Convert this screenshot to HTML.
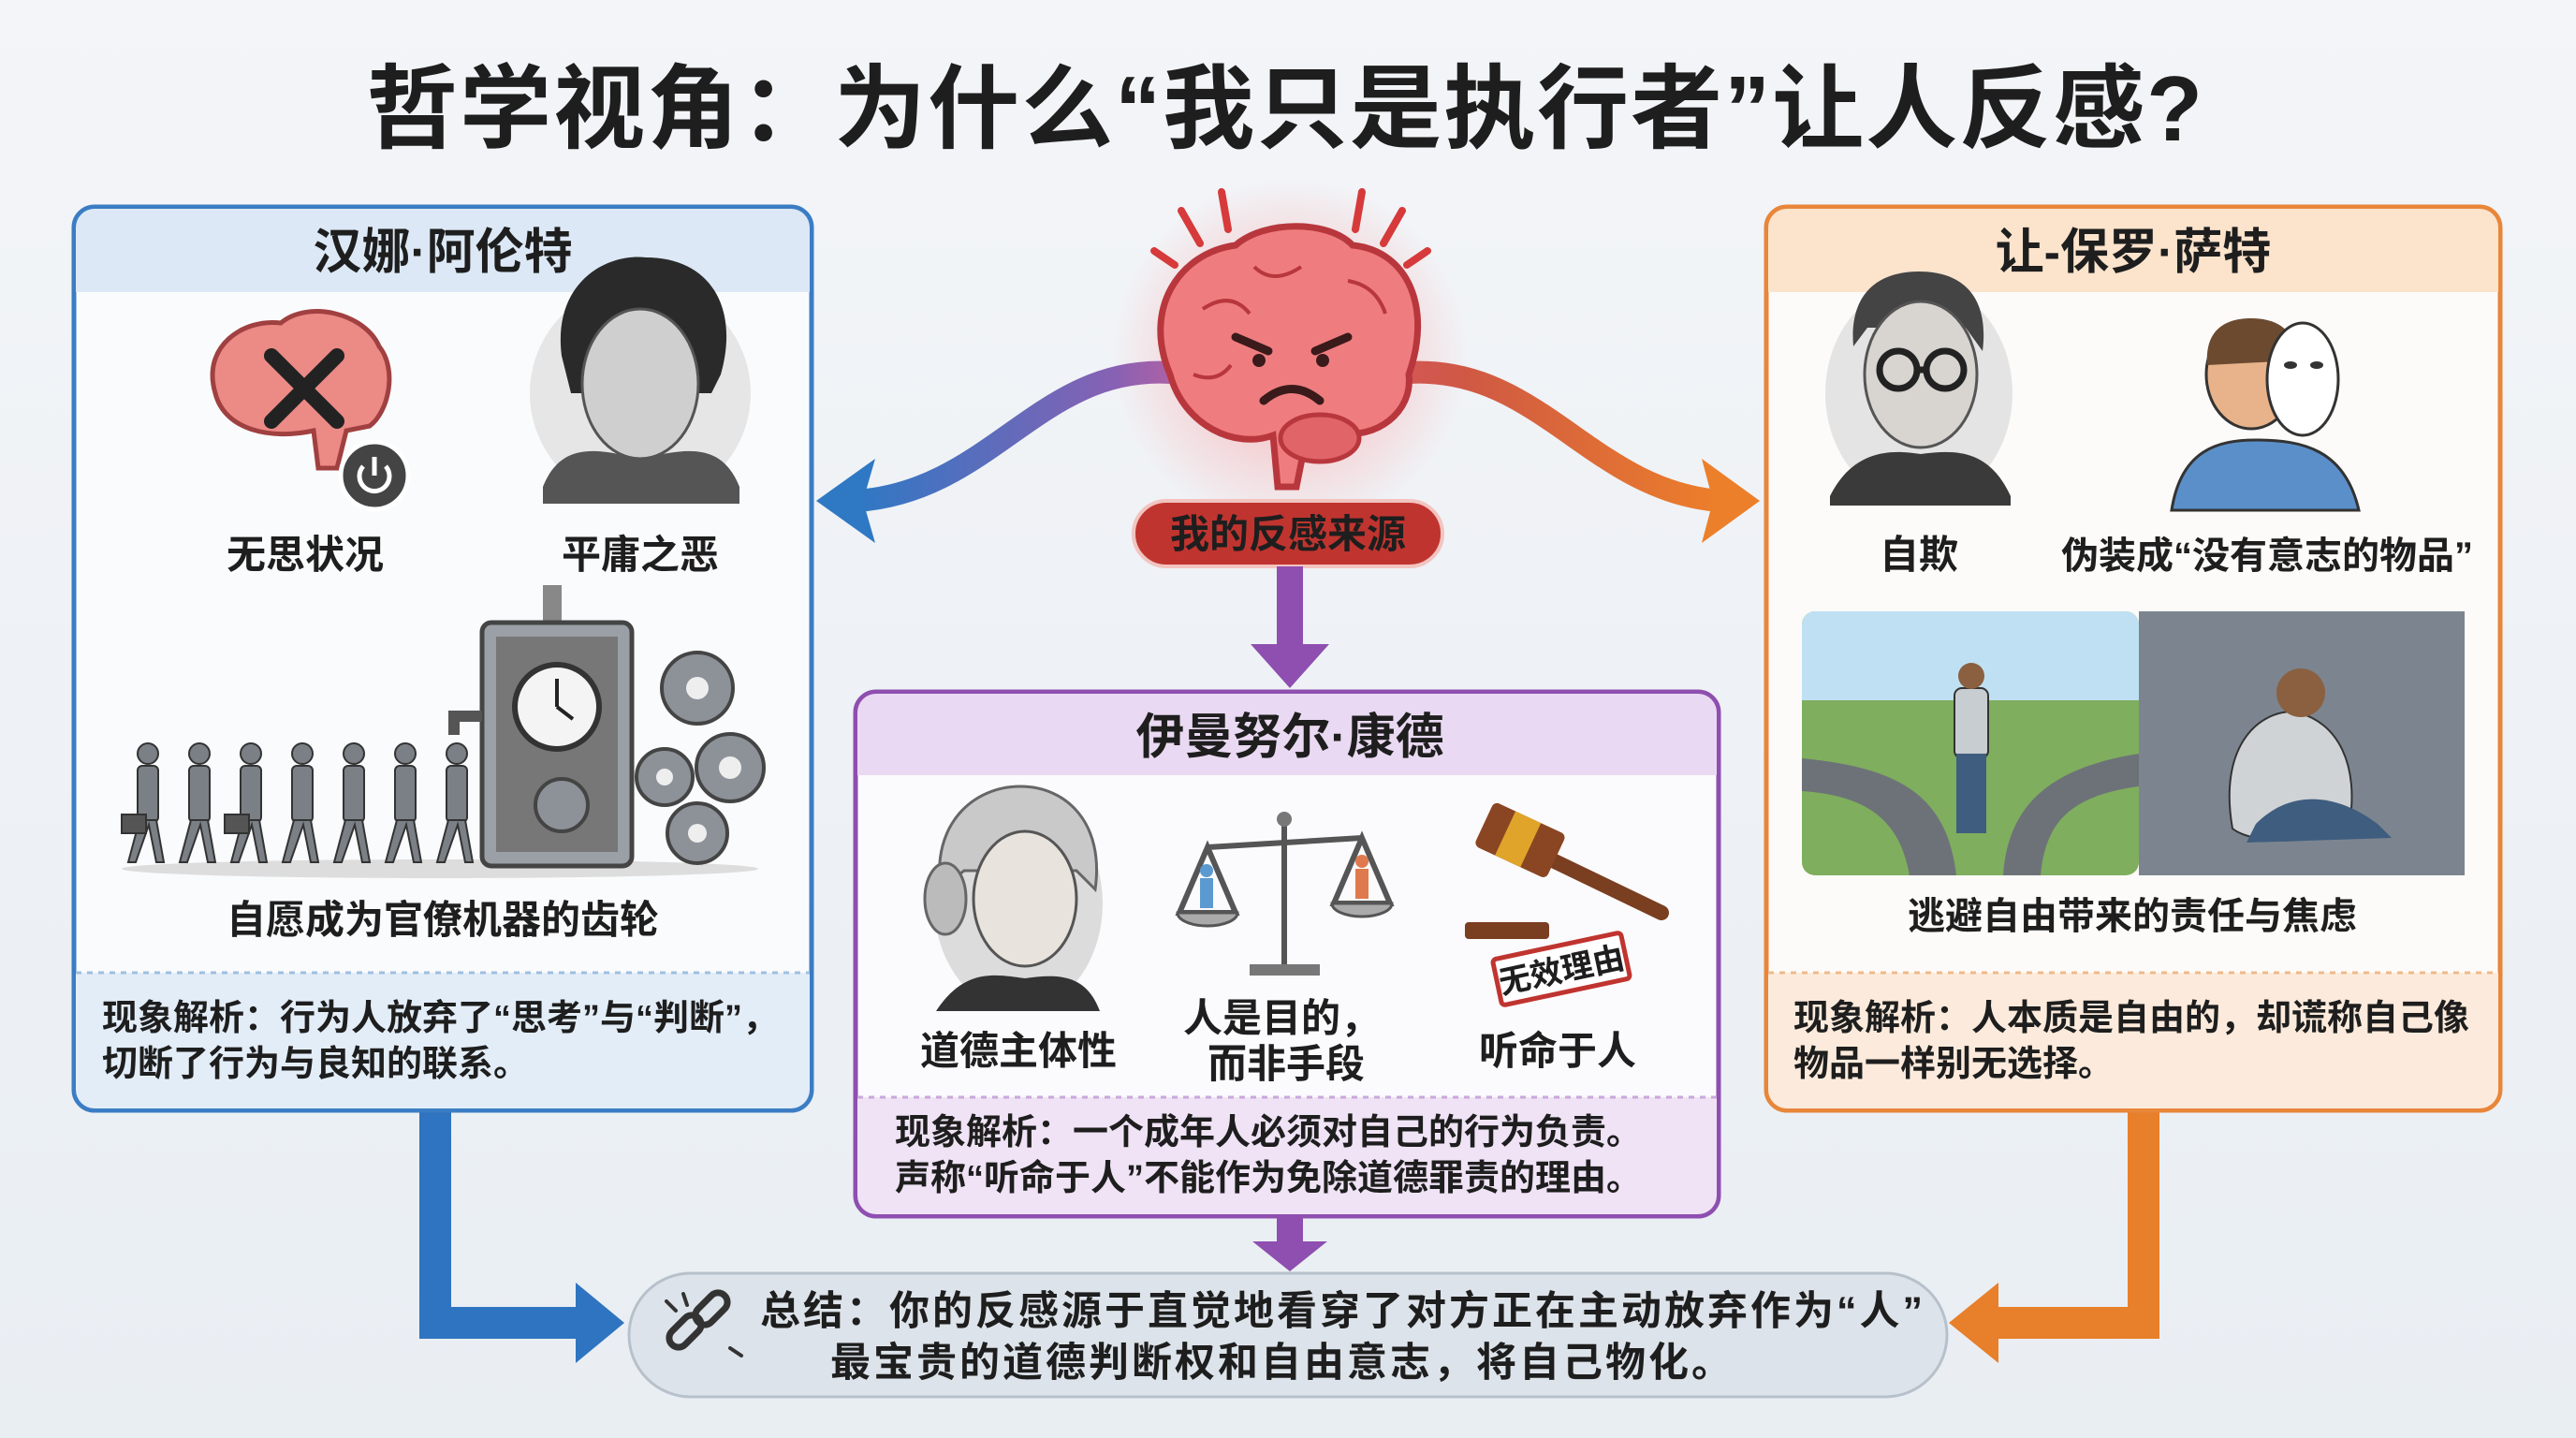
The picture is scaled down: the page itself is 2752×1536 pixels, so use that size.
<!DOCTYPE html>
<html><head><meta charset="utf-8"><style>
html,body{margin:0;padding:0;width:2752px;height:1536px;overflow:hidden;background:#eef2f6}
svg{display:block}
text{font-family:"Liberation Sans","Noto Sans CJK SC",sans-serif;font-weight:bold;fill:#1e1e1e}
</style></head><body>
<svg width="2752" height="1536" viewBox="0 0 2752 1536" xmlns="http://www.w3.org/2000/svg">
<defs>
<linearGradient id="gl" x1="1" y1="0" x2="0" y2="0"><stop offset="0" stop-color="#9a5cb0"/><stop offset="1" stop-color="#2f78c4"/></linearGradient>
<linearGradient id="gr" x1="0" y1="0" x2="1" y2="0"><stop offset="0" stop-color="#c9504a"/><stop offset="1" stop-color="#ec7f2a"/></linearGradient>
<radialGradient id="glow"><stop offset="0" stop-color="#ff7a7a" stop-opacity=".55"/><stop offset="1" stop-color="#ff7a7a" stop-opacity="0"/></radialGradient>
<linearGradient id="bg" x1="0" y1="0" x2="0" y2="1"><stop offset="0" stop-color="#f3f5f8"/><stop offset="1" stop-color="#e9eef3"/></linearGradient>
</defs>
<rect width="2752" height="1536" fill="url(#bg)"/>

<!-- Title -->
<text x="1373" y="150" font-size="98" text-anchor="middle" font-weight="900" fill="#111" letter-spacing="2">哲学视角：为什么“我只是执行者”让人反感?</text>

<!-- Curved connectors -->
<path d="M1250,398 C1110,390 1060,525 915,535" stroke="url(#gl)" stroke-width="24" fill="none"/>
<polygon points="872,535 935,490 922,535 935,580" fill="#2f78c4"/>
<path d="M1505,398 C1645,390 1700,525 1838,535" stroke="url(#gr)" stroke-width="24" fill="none"/>
<polygon points="1880,535 1818,490 1830,535 1818,580" fill="#ec7f2a"/>

<!-- Brain -->
<circle cx="1378" cy="380" r="190" fill="url(#glow)"/>
<g stroke="#d63a3a" stroke-width="8" stroke-linecap="round">
<line x1="1233" y1="268" x2="1255" y2="283"/><line x1="1262" y1="225" x2="1282" y2="260"/><line x1="1305" y1="205" x2="1312" y2="245"/>
<line x1="1455" y1="205" x2="1448" y2="245"/><line x1="1498" y1="225" x2="1478" y2="260"/><line x1="1525" y1="268" x2="1503" y2="283"/>
</g>
<path d="M1250,400 C1220,330 1260,270 1320,262 C1350,235 1420,235 1445,262 C1505,268 1530,330 1505,400 C1510,440 1470,470 1430,462 C1420,480 1400,480 1395,470 L1385,520 L1365,520 L1360,465 C1320,480 1265,455 1250,400Z" fill="#ef7d80" stroke="#b8373d" stroke-width="7"/>
<ellipse cx="1410" cy="468" rx="42" ry="25" fill="#e06468" stroke="#b8373d" stroke-width="5"/>
<g stroke="#b8373d" stroke-width="4" fill="none"><path d="M1285,330 q30,-20 50,5"/><path d="M1440,300 q30,5 40,35"/><path d="M1275,400 q25,10 40,-10"/><path d="M1340,285 q20,20 50,0"/></g>
<g stroke="#3a1a1a" stroke-width="9" stroke-linecap="round" fill="none"><line x1="1320" y1="360" x2="1355" y2="375"/><line x1="1440" y1="360" x2="1405" y2="375"/><path d="M1350,428 q30,-25 60,0"/></g>
<circle cx="1345" cy="385" r="7" fill="#3a1a1a"/><circle cx="1413" cy="385" r="7" fill="#3a1a1a"/>

<!-- Red pill -->
<rect x="1211" y="535" width="330" height="70" rx="35" fill="#c0342f" stroke="#f2c4c0" stroke-width="4"/>
<text x="1376" y="585" font-size="42" text-anchor="middle" fill="#fff">我的反感来源</text>

<!-- purple arrow down -->
<rect x="1364" y="605" width="28" height="85" fill="#8e4fb0"/>
<polygon points="1336,688 1420,688 1378,735" fill="#8e4fb0"/>

<!-- Bottom connectors -->
<path d="M465,1186 L465,1413 L630,1413" stroke="#2f74c0" stroke-width="34" fill="none"/>
<polygon points="667,1413 615,1370 615,1456" fill="#2f74c0"/>
<path d="M2290,1186 L2290,1413 L2120,1413" stroke="#e87f2a" stroke-width="34" fill="none"/>
<polygon points="2082,1413 2135,1370 2135,1456" fill="#e87f2a"/>
<rect x="1364" y="1299" width="28" height="30" fill="#8e4fb0"/>
<polygon points="1338,1326 1418,1326 1378,1358" fill="#8e4fb0"/>

<!-- LEFT BOX -->
<rect x="79" y="221" width="788" height="965" rx="22" fill="#fafbfc" stroke="#3b7dc4" stroke-width="5"/>
<path d="M101,223 h744 a20,20 0 0 1 20,20 v69 h-784 v-69 a20,20 0 0 1 20,-20z" fill="#dce8f5"/>
<path d="M81,1039 h784 v125 a20,20 0 0 1 -20,20 h-744 a20,20 0 0 1 -20,-20z" fill="#e3edf8"/>
<line x1="81" y1="1039" x2="865" y2="1039" stroke="#9fbfe0" stroke-width="3" stroke-dasharray="6,6"/>
<text x="473" y="287" font-size="52" text-anchor="middle">汉娜·阿伦特</text>
<path d="M230,420 C215,370 260,340 300,345 C330,320 390,335 405,370 C425,395 415,440 395,455 L370,460 L360,500 L340,500 L335,460 C290,470 240,460 230,420Z" fill="#ec8a86" stroke="#a04040" stroke-width="5"/>
<g stroke="#222" stroke-width="16" stroke-linecap="round"><line x1="290" y1="380" x2="360" y2="450"/><line x1="360" y1="380" x2="290" y2="450"/></g>
<circle cx="400" cy="508" r="36" fill="#444" stroke="#fff" stroke-width="5"/>
<path d="M388,498 a16,16 0 1 0 24,0" stroke="#fff" stroke-width="5" fill="none"/><line x1="400" y1="488" x2="400" y2="508" stroke="#fff" stroke-width="5"/>
<circle cx="684" cy="420" r="118" fill="#e6e6e6"/>
<path d="M600,380 C590,300 650,270 690,275 C760,275 790,330 770,400 L760,420 L610,420Z" fill="#2a2a2a"/>
<ellipse cx="684" cy="410" rx="62" ry="80" fill="#cfcfcf" stroke="#555" stroke-width="3"/>
<path d="M580,520 C600,470 640,480 684,490 C730,480 770,470 790,520 L790,538 L580,538Z" fill="#555"/>
<text x="326" y="607" font-size="42" text-anchor="middle">无思状况</text>
<text x="684" y="607" font-size="42" text-anchor="middle">平庸之恶</text>
<ellipse cx="470" cy="928" rx="340" ry="10" fill="#ddd"/>
<rect x="580" y="625" width="20" height="40" fill="#888"/>
<rect x="515" y="665" width="160" height="260" rx="10" fill="#9aa0a6" stroke="#444" stroke-width="5"/>
<rect x="530" y="680" width="130" height="230" fill="#777"/>
<circle cx="595" cy="755" r="45" fill="#f4f4f4" stroke="#333" stroke-width="6"/>
<line x1="595" y1="755" x2="595" y2="725" stroke="#222" stroke-width="4"/><line x1="595" y1="755" x2="612" y2="768" stroke="#222" stroke-width="4"/>
<path d="M515,765 h-30 v20" stroke="#555" stroke-width="12" fill="none"/>
<g fill="#8d9298" stroke="#444" stroke-width="4">
<circle cx="745" cy="735" r="38"/><circle cx="780" cy="820" r="36"/><circle cx="710" cy="830" r="30"/><circle cx="745" cy="890" r="32"/><circle cx="600" cy="860" r="28"/>
</g>
<g fill="#eee"><circle cx="745" cy="735" r="12"/><circle cx="780" cy="820" r="12"/><circle cx="710" cy="830" r="9"/><circle cx="745" cy="890" r="10"/></g>
<g fill="#7b8086" stroke="#333" stroke-width="2">
<g><circle cx="158" cy="805" r="11"/><rect x="147" y="818" width="22" height="60" rx="5"/><path d="M149,876 l-12,45 h8 l14,-40 l8,40 h8 l-8,-45z"/></g>
<g transform="translate(55,0)"><circle cx="158" cy="805" r="11"/><rect x="147" y="818" width="22" height="60" rx="5"/><path d="M149,876 l-12,45 h8 l14,-40 l8,40 h8 l-8,-45z"/></g>
<g transform="translate(110,0)"><circle cx="158" cy="805" r="11"/><rect x="147" y="818" width="22" height="60" rx="5"/><path d="M149,876 l-12,45 h8 l14,-40 l8,40 h8 l-8,-45z"/></g>
<g transform="translate(165,0)"><circle cx="158" cy="805" r="11"/><rect x="147" y="818" width="22" height="60" rx="5"/><path d="M149,876 l-12,45 h8 l14,-40 l8,40 h8 l-8,-45z"/></g>
<g transform="translate(220,0)"><circle cx="158" cy="805" r="11"/><rect x="147" y="818" width="22" height="60" rx="5"/><path d="M149,876 l-12,45 h8 l14,-40 l8,40 h8 l-8,-45z"/></g>
<g transform="translate(275,0)"><circle cx="158" cy="805" r="11"/><rect x="147" y="818" width="22" height="60" rx="5"/><path d="M149,876 l-12,45 h8 l14,-40 l8,40 h8 l-8,-45z"/></g>
<g transform="translate(330,0)"><circle cx="158" cy="805" r="11"/><rect x="147" y="818" width="22" height="60" rx="5"/><path d="M149,876 l-12,45 h8 l14,-40 l8,40 h8 l-8,-45z"/></g>
<rect x="130" y="870" width="26" height="20" fill="#555"/><rect x="240" y="870" width="26" height="20" fill="#555"/>
</g>
<text x="473" y="997" font-size="42" text-anchor="middle">自愿成为官僚机器的齿轮</text>
<text x="109" y="1100" font-size="38">现象解析：行为人放弃了“思考”与“判断”，</text>
<text x="109" y="1149" font-size="38">切断了行为与良知的联系。</text>

<!-- CENTER BOX -->
<rect x="914" y="739" width="922" height="560" rx="22" fill="#fbfafc" stroke="#8e4fb0" stroke-width="5"/>
<path d="M936,741 h878 a20,20 0 0 1 20,20 v67 h-918 v-67 a20,20 0 0 1 20,-20z" fill="#ead9f2"/>
<path d="M916,1172 h918 v105 a20,20 0 0 1 -20,20 h-878 a20,20 0 0 1 -20,-20z" fill="#efe3f5"/>
<line x1="916" y1="1172" x2="1834" y2="1172" stroke="#c9a8db" stroke-width="3" stroke-dasharray="6,6"/>
<text x="1378" y="805" font-size="52" text-anchor="middle">伊曼努尔·康德</text>
<ellipse cx="1088" cy="965" rx="90" ry="115" fill="#dcdcdc"/>
<path d="M1005,950 C995,880 1040,840 1090,840 C1140,840 1180,880 1170,950 L1150,930 L1030,930Z" fill="#c9c9c9" stroke="#666" stroke-width="3"/>
<ellipse cx="1010" cy="960" rx="22" ry="38" fill="#bbb" stroke="#666" stroke-width="3"/>
<ellipse cx="1095" cy="960" rx="55" ry="72" fill="#e9e3dd" stroke="#555" stroke-width="3"/>
<path d="M1000,1080 C1030,1035 1060,1040 1095,1045 C1130,1040 1160,1040 1175,1080Z" fill="#333"/>
<text x="1088" y="1137" font-size="42" text-anchor="middle">道德主体性</text>
<g stroke="#555" stroke-width="6" fill="none">
<line x1="1372" y1="880" x2="1372" y2="1035"/><line x1="1290" y1="905" x2="1455" y2="895"/>
<path d="M1290,905 l-30,70 h60z"/><path d="M1455,895 l-30,70 h60z"/>
</g>
<rect x="1335" y="1030" width="75" height="12" fill="#777"/>
<circle cx="1372" cy="875" r="8" fill="#777"/>
<path d="M1258,975 a32,14 0 0 0 64,0z" fill="#aaa" stroke="#555" stroke-width="3"/><path d="M1423,965 a32,14 0 0 0 64,0z" fill="#aaa" stroke="#555" stroke-width="3"/>
<rect x="1282" y="938" width="14" height="32" fill="#5b9ad0"/><circle cx="1289" cy="930" r="7" fill="#5b9ad0"/>
<rect x="1448" y="928" width="14" height="32" fill="#e07a4e"/><circle cx="1455" cy="920" r="7" fill="#e07a4e"/>
<text x="1369" y="1102" font-size="42" text-anchor="middle">人是目的，</text>
<text x="1374" y="1151" font-size="42" text-anchor="middle">而非手段</text>
<rect x="1565" y="985" width="90" height="18" rx="4" fill="#7a3e20"/>
<line x1="1640" y1="910" x2="1775" y2="975" stroke="#7a3e20" stroke-width="16" stroke-linecap="round"/>
<g transform="rotate(25 1620 900)"><rect x="1580" y="870" width="85" height="52" rx="6" fill="#8a4522"/><rect x="1605" y="870" width="30" height="52" fill="#e0a42a"/></g>
<g transform="rotate(-12 1668 1035)"><rect x="1598" y="1010" width="140" height="50" rx="4" fill="#fff" stroke="#c0342f" stroke-width="5"/><text x="1668" y="1048" font-size="34" text-anchor="middle" fill="#c0342f">无效理由</text></g>
<text x="1664" y="1137" font-size="42" text-anchor="middle">听命于人</text>
<text x="956" y="1222" font-size="38">现象解析：一个成年人必须对自己的行为负责。</text>
<text x="956" y="1271" font-size="38">声称“听命于人”不能作为免除道德罪责的理由。</text>

<!-- RIGHT BOX -->
<rect x="1887" y="221" width="784" height="965" rx="22" fill="#fdfbf9" stroke="#e8863a" stroke-width="5"/>
<path d="M1909,223 h740 a20,20 0 0 1 20,20 v69 h-780 v-69 a20,20 0 0 1 20,-20z" fill="#fbe3cc"/>
<path d="M1889,1039 h780 v125 a20,20 0 0 1 -20,20 h-740 a20,20 0 0 1 -20,-20z" fill="#fcebdc"/>
<line x1="1889" y1="1039" x2="2669" y2="1039" stroke="#f0b98a" stroke-width="3" stroke-dasharray="6,6"/>
<text x="2279" y="287" font-size="52" text-anchor="middle">让-保罗·萨特</text>
<ellipse cx="2050" cy="420" rx="100" ry="118" fill="#e4e4e4"/>
<path d="M1980,370 C1975,310 2010,290 2050,290 C2100,290 2125,320 2118,375 L2100,350 L1995,350Z" fill="#444"/>
<ellipse cx="2052" cy="400" rx="60" ry="78" fill="#d8d4d0" stroke="#555" stroke-width="3"/>
<g fill="none" stroke="#222" stroke-width="7"><circle cx="2028" cy="395" r="20"/><circle cx="2078" cy="395" r="20"/><line x1="2048" y1="395" x2="2058" y2="395"/></g>
<path d="M1955,530 C1980,480 2020,480 2052,485 C2090,480 2125,480 2148,530 L2148,540 L1955,540Z" fill="#3a3a3a"/>
<path d="M2320,545 C2330,480 2370,470 2410,470 C2460,470 2505,480 2520,545Z" fill="#5b8fc9" stroke="#333" stroke-width="3"/>
<ellipse cx="2405" cy="400" rx="48" ry="58" fill="#e8b38a" stroke="#333" stroke-width="3"/>
<path d="M2358,390 C2355,350 2380,340 2405,340 C2440,340 2455,360 2452,385Z" fill="#6b4a30"/>
<ellipse cx="2460" cy="405" rx="38" ry="60" fill="#fff" stroke="#333" stroke-width="3"/>
<ellipse cx="2447" cy="390" rx="7" ry="4" fill="#333"/><ellipse cx="2475" cy="390" rx="7" ry="4" fill="#333"/>
<text x="2050" y="607" font-size="42" text-anchor="middle">自欺</text>
<text x="2422" y="607" font-size="40" text-anchor="middle">伪装成“没有意志的物品”</text>
<rect x="1925" y="653" width="360" height="282" rx="14" fill="#7fae5e"/>
<rect x="1925" y="653" width="360" height="95" rx="14" fill="#bfe0f2"/>
<rect x="1925" y="720" width="360" height="28" fill="#bfe0f2"/>
<path d="M1925,810 C2030,820 2080,850 2090,935 L2140,935 C2145,860 2190,820 2285,805 L2285,840 C2210,850 2185,880 2180,935 L2040,935 C2030,880 2000,850 1925,845Z" fill="#6d7278"/>
<rect x="2088" y="735" width="36" height="75" rx="8" fill="#c8cdd2" stroke="#333" stroke-width="2"/>
<circle cx="2106" cy="722" r="14" fill="#8a6040"/>
<rect x="2090" y="805" width="32" height="85" fill="#3f5d7f"/>
<rect x="2285" y="653" width="348" height="282" fill="#7c858f"/>
<path d="M2385,885 C2370,800 2410,760 2450,760 C2500,770 2520,820 2510,880 C2490,900 2410,905 2385,885Z" fill="#d0d3d6" stroke="#333" stroke-width="2"/>
<circle cx="2458" cy="740" r="26" fill="#8a6040"/>
<path d="M2410,880 C2450,840 2500,850 2540,880 L2555,895 L2400,900Z" fill="#3f5d7f"/>
<text x="2278" y="992" font-size="40" text-anchor="middle">逃避自由带来的责任与焦虑</text>
<text x="1916" y="1100" font-size="38">现象解析：人本质是自由的，却谎称自己像</text>
<text x="1916" y="1149" font-size="38">物品一样别无选择。</text>

<!-- Summary pill -->
<rect x="672" y="1360" width="1408" height="132" rx="66" fill="#dde3ea" stroke="#b7c1cb" stroke-width="3"/>
<g fill="none" stroke="#333" stroke-width="7">
<rect x="712" y="1412" width="40" height="20" rx="10" transform="rotate(-45 732 1422)"/>
<rect x="740" y="1388" width="40" height="20" rx="10" transform="rotate(-45 760 1398)"/>
</g>
<g stroke="#333" stroke-width="4" stroke-linecap="round"><line x1="712" y1="1390" x2="722" y2="1400"/><line x1="730" y1="1382" x2="734" y2="1394"/><line x1="780" y1="1440" x2="792" y2="1448"/></g>
<text x="812" y="1415" font-size="43" letter-spacing="3">总结：你的反感源于直觉地看穿了对方正在主动放弃作为“人”</text>
<text x="1370" y="1470" font-size="43" text-anchor="middle" letter-spacing="3">最宝贵的道德判断权和自由意志，将自己物化。</text>
</svg>
</body></html>
